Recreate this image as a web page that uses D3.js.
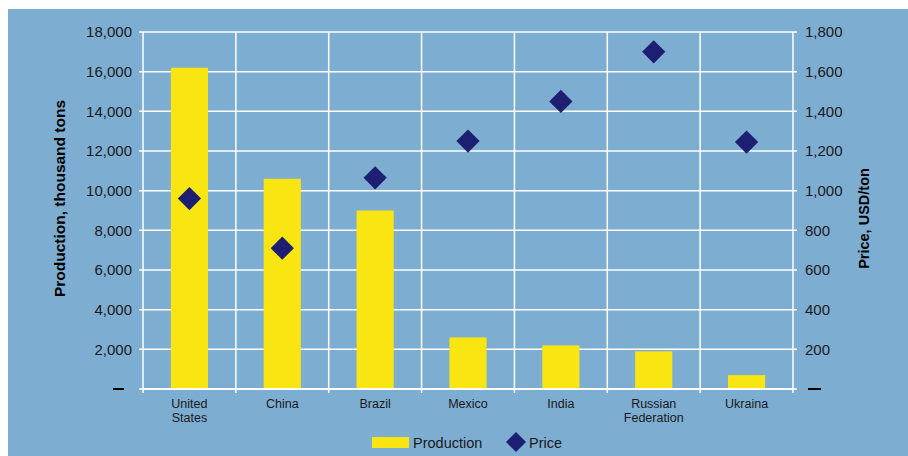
<!DOCTYPE html>
<html><head><meta charset="utf-8">
<script src="https://cdn.jsdelivr.net/npm/d3@7"></script>
<style>
html,body{margin:0;padding:0;background:#fff;}
text{font-family:"Liberation Sans",Arial,Helvetica,sans-serif;}
</style></head>
<body><svg id="c" width="908" height="456"></svg>
<script>
const categories = [["United","States"],["China"],["Brazil"],["Mexico"],["India"],["Russian","Federation"],["Ukraina"]];
const production = [16200, 10600, 9000, 2600, 2200, 1900, 700];
const price = [960, 710, 1065, 1250, 1450, 1700, 1245];
const leftTicks = [0,2000,4000,6000,8000,10000,12000,14000,16000,18000];
const rightTicks = [0,200,400,600,800,1000,1200,1400,1600,1800];

const svg = d3.select("#c");
const W=908,H=456;
const m={l:143,r:793,t:32,b:389};
svg.append("rect").attr("x",8).attr("y",9).attr("width",W-8).attr("height",H-9).attr("fill","#7eadd2");

const ids = categories.map((d,i)=>i);
const x = d3.scaleBand().domain(ids).range([m.l,m.r]).paddingInner(0).paddingOuter(0);
const yL = d3.scaleLinear().domain([0,18000]).range([m.b,m.t]);
const yR = d3.scaleLinear().domain([0,1800]).range([m.b,m.t]);
const fmt = d3.format(",");

// grid horizontal
const g = svg.append("g");
g.selectAll("line.h").data(leftTicks).join("line")
 .attr("x1",m.l-4).attr("x2",m.r+4).attr("y1",d=>yL(d)).attr("y2",d=>yL(d))
 .attr("stroke","#fff").attr("stroke-width",1.5);
// vertical boundaries
const bounds = ids.map(i=>x(i)).concat([m.r]);
g.selectAll("line.v").data(bounds).join("line")
 .attr("x1",d=>d).attr("x2",d=>d).attr("y1",m.t).attr("y2",m.b+4)
 .attr("stroke","#fff").attr("stroke-width",1.5);

// bars
const bw = x.bandwidth()*0.4;
svg.selectAll("rect.bar").data(production).join("rect")
 .attr("x",(d,i)=>x(i)+x.bandwidth()/2-bw/2).attr("width",bw)
 .attr("y",d=>yL(d)).attr("height",d=>m.b-yL(d)).attr("fill","#f9e511");

// axis line bottom redrawn over bars
svg.append("line").attr("x1",m.l).attr("x2",m.r).attr("y1",m.b).attr("y2",m.b).attr("stroke","#fff").attr("stroke-width",2);

// diamonds
const sym = d3.symbol().type(d3.symbolSquare).size(270);
svg.selectAll("path.pt").data(price).join("path")
 .attr("d",sym).attr("fill","#1c1f72")
 .attr("transform",(d,i)=>`translate(${x(i)+x.bandwidth()/2},${yR(d)}) rotate(45)`);

// left tick labels
svg.selectAll("text.l").data(leftTicks.filter(d=>d>0)).join("text")
 .attr("x",132).attr("y",d=>yL(d)).attr("dy","0.35em").attr("text-anchor","end")
 .attr("font-size",15).attr("fill","#1a1a1a").text(d=>fmt(d));
svg.selectAll("text.r").data(rightTicks.filter(d=>d>0)).join("text")
 .attr("x",805).attr("y",d=>yR(d)).attr("dy","0.35em").attr("text-anchor","start")
 .attr("font-size",15).attr("fill","#1a1a1a").text(d=>fmt(d));
// zero dashes
svg.append("line").attr("x1",113).attr("x2",124).attr("y1",yL(0)).attr("y2",yL(0)).attr("stroke","#000").attr("stroke-width",2);
svg.append("line").attr("x1",808).attr("x2",821).attr("y1",yR(0)).attr("y2",yR(0)).attr("stroke","#000").attr("stroke-width",2);

// axis titles
svg.append("text").attr("transform","translate(64.5,198.5) rotate(-90)").attr("text-anchor","middle")
 .attr("font-size",15.5).attr("font-weight","bold").attr("fill","#000").text("Production, thousand tons");
svg.append("text").attr("transform","translate(868.5,218.5) rotate(-90)").attr("text-anchor","middle")
 .attr("font-size",14.5).attr("font-weight","bold").attr("fill","#000").text("Price, USD/ton");

// category labels (one text per line)
categories.forEach((lines,i)=>{
  lines.forEach((s,j)=>{
    svg.append("text").attr("text-anchor","middle").attr("font-size",12.5).attr("fill","#1a1a1a")
      .attr("x",x(i)+x.bandwidth()/2).attr("y",408+j*14).text(s);
  });
});

// legend
svg.append("rect").attr("x",372).attr("y",437).attr("width",37).attr("height",11).attr("fill","#f9e511");
svg.append("text").attr("x",413).attr("y",442.5).attr("dy","0.35em").attr("font-size",14.5).attr("fill","#1a1a1a").text("Production");
svg.append("path").attr("d",d3.symbol().type(d3.symbolSquare).size(200)).attr("fill","#1c1f72")
 .attr("transform","translate(516,442) rotate(45)");
svg.append("text").attr("x",529).attr("y",442.5).attr("dy","0.35em").attr("font-size",14.5).attr("fill","#1a1a1a").text("Price");
</script></body></html>
